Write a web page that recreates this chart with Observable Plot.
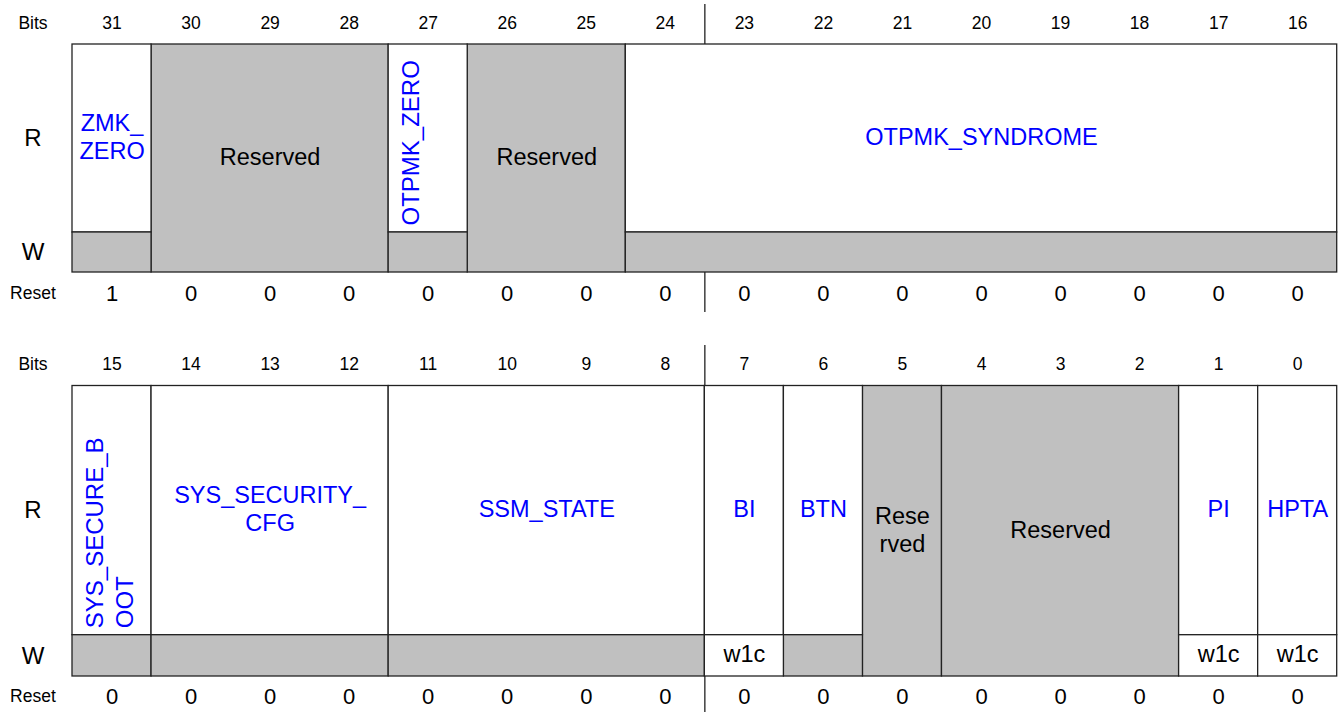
<!DOCTYPE html>
<html>
<head>
<meta charset="utf-8">
<script src="https://cdn.jsdelivr.net/npm/d3@7"></script>
<script src="https://cdn.jsdelivr.net/npm/@observablehq/plot@0.6"></script>
<style>
  html, body { margin: 0; padding: 0; background: #ffffff; }
  #chart svg { display: block; }
</style>
</head>
<body>
<div id="chart"></div>
<script>
// ---------------- data ----------------
const bitNumbers = d3.range(31, -1, -1); // 31 .. 0
const resetValues = [1, 0, 0, 0, 0, 0, 0, 0, 0, 0, 0, 0, 0, 0, 0, 0,
                     0, 0, 0, 0, 0, 0, 0, 0, 0, 0, 0, 0, 0, 0, 0, 0]; // bits 31..0
const fieldNames  = ["ZMK_ZERO", "Reserved", "OTPMK_ZERO", "Reserved", "OTPMK_SYNDROME",
                     "SYS_SECURE_BOOT", "SYS_SECURITY_CFG", "SSM_STATE", "BI", "BTN",
                     "Reserved", "Reserved", "PI", "HPTA"];
const fieldLabels = ["ZMK_\nZERO", "Reserved", "OTPMK_ZERO", "Reserved", "OTPMK_SYNDROME",
                     "SYS_SECURE_B\nOOT", "SYS_SECURITY_\nCFG", "SSM_STATE", "BI", "BTN",
                     "Rese\nrved", "Reserved", "PI", "HPTA"];
const fieldMsb    = [31, 30, 27, 26, 24, 15, 14, 11, 7, 6, 5, 4, 1, 0];
const fieldLsb    = [31, 28, 27, 25, 16, 15, 12,  8, 7, 6, 5, 2, 1, 0];
const fieldWrite  = ["", "", "", "", "", "", "", "", "w1c", "", "", "", "w1c", "w1c"];
const fieldVertical = [false, false, true, false, false, true, false, false, false, false, false, false, false, false];
const rowLabels   = ["Bits", "R", "W", "Reset"];
const byteDividerBit = 24; // divider line drawn right of this bit (and of bit 8)

// ---------------- layout (positions / styles) ----------------
const W = 1339, H = 712;
const panels = [
  {bitsY: 23,  top: 44,    split: 232,   bottom: 272, resetY: 293, lineTop: 4,   lineBottom: 312},
  {bitsY: 364, top: 385.5, split: 634.7, bottom: 676, resetY: 696, lineTop: 345, lineBottom: 712}
];
const GRAY = "#c0c0c0";
const BLUE = "#0000ff";
const STROKE = "#222";
const SW = 1.3;

const col = b => b % 16;                 // column coordinate: bit b spans [col+1, col]
const panelOf = b => panels[b >= 16 ? 0 : 1];

const fields = fieldNames.map((name, i) => ({
  name, label: fieldLabels[i], msb: fieldMsb[i], lsb: fieldLsb[i],
  write: fieldWrite[i], vertical: fieldVertical[i],
  reserved: name === "Reserved", p: panelOf(fieldMsb[i])
}));
const reservedFields = fields.filter(d => d.reserved);
const activeFields = fields.filter(d => !d.reserved);
const bits = bitNumbers.map((b, i) => ({bit: b, reset: resetValues[i], p: panelOf(b)}));
const rowItems = panels.flatMap(p => rowLabels.map(l => ({label: l, p})));
const dividers = panels.flatMap(p => [
  {x: col(byteDividerBit), y1: p.lineTop, y2: p.top},
  {x: col(byteDividerBit), y1: p.bottom, y2: p.lineBottom}
]);

const rowY = d => d.label === "Bits" ? d.p.bitsY
  : d.label === "R" ? (d.p.top + d.p.split) / 2
  : d.label === "W" ? (d.p.split + d.p.bottom) / 2
  : d.p.resetY;

const x1 = d => col(d.msb) + 1;
const x2 = d => col(d.lsb);
const xc = d => (col(d.msb) + 1 + col(d.lsb)) / 2;

const chart = Plot.plot({
  width: W,
  height: H,
  margin: 0,
  x: {type: "linear", domain: [16, 0], range: [72, 1336.7], axis: null},
  y: {type: "linear", domain: [0, H], range: [0, H], axis: null},
  style: {fontFamily: "'Liberation Sans', Arial, Helvetica, sans-serif", background: "#ffffff", color: "#000"},
  marks: [
    Plot.rect(reservedFields, {x1, x2, y1: d => d.p.top, y2: d => d.p.bottom, fill: GRAY, stroke: STROKE, strokeWidth: SW}),
    Plot.rect(activeFields, {x1, x2, y1: d => d.p.top, y2: d => d.p.split, fill: "#ffffff", stroke: STROKE, strokeWidth: SW}),
    Plot.rect(activeFields.filter(d => !d.write), {x1, x2, y1: d => d.p.split, y2: d => d.p.bottom, fill: GRAY, stroke: STROKE, strokeWidth: SW}),
    Plot.rect(activeFields.filter(d => d.write), {x1, x2, y1: d => d.p.split, y2: d => d.p.bottom, fill: "#ffffff", stroke: STROKE, strokeWidth: SW}),
    Plot.ruleX(dividers, {x: "x", y1: "y1", y2: "y2", stroke: STROKE, strokeWidth: SW}),
    Plot.text(bits, {x: d => col(d.bit) + 0.5, y: d => d.p.bitsY, text: d => String(d.bit), fontSize: 17.5, fill: "#000"}),
    Plot.text(bits, {x: d => col(d.bit) + 0.5, y: d => d.p.resetY, text: d => String(d.reset), fontSize: 22, fill: "#000"}),
    Plot.text(rowItems, {x: 16.5, y: rowY, text: "label",
      fontSize: d => (d.label === "R" || d.label === "W") ? 24 : 17.5, fill: "#000"}),
    Plot.text(fields.filter(d => !d.vertical), {
      x: xc,
      y: d => d.reserved ? (d.p.top + d.p.bottom) / 2 : (d.p.top + d.p.split) / 2,
      text: "label", fontSize: 23.5, lineHeight: 1.2, dy: -2.5,
      fill: d => d.reserved ? "#000000" : BLUE
    }),
    Plot.text(fields.filter(d => d.vertical), {
      x: x1, y: d => d.p.split, text: "label", fontSize: 24, lineHeight: 1.25,
      rotate: -90, textAnchor: "start", lineAnchor: "top", dx: 9.5, dy: -7, fill: BLUE
    }),
    Plot.text(activeFields.filter(d => d.write), {
      x: xc, y: d => (d.p.split + d.p.bottom) / 2, text: "write", fontSize: 23.5, dy: -1, fill: "#000"
    })
  ]
});
document.getElementById("chart").appendChild(chart);
</script>
</body>
</html>
